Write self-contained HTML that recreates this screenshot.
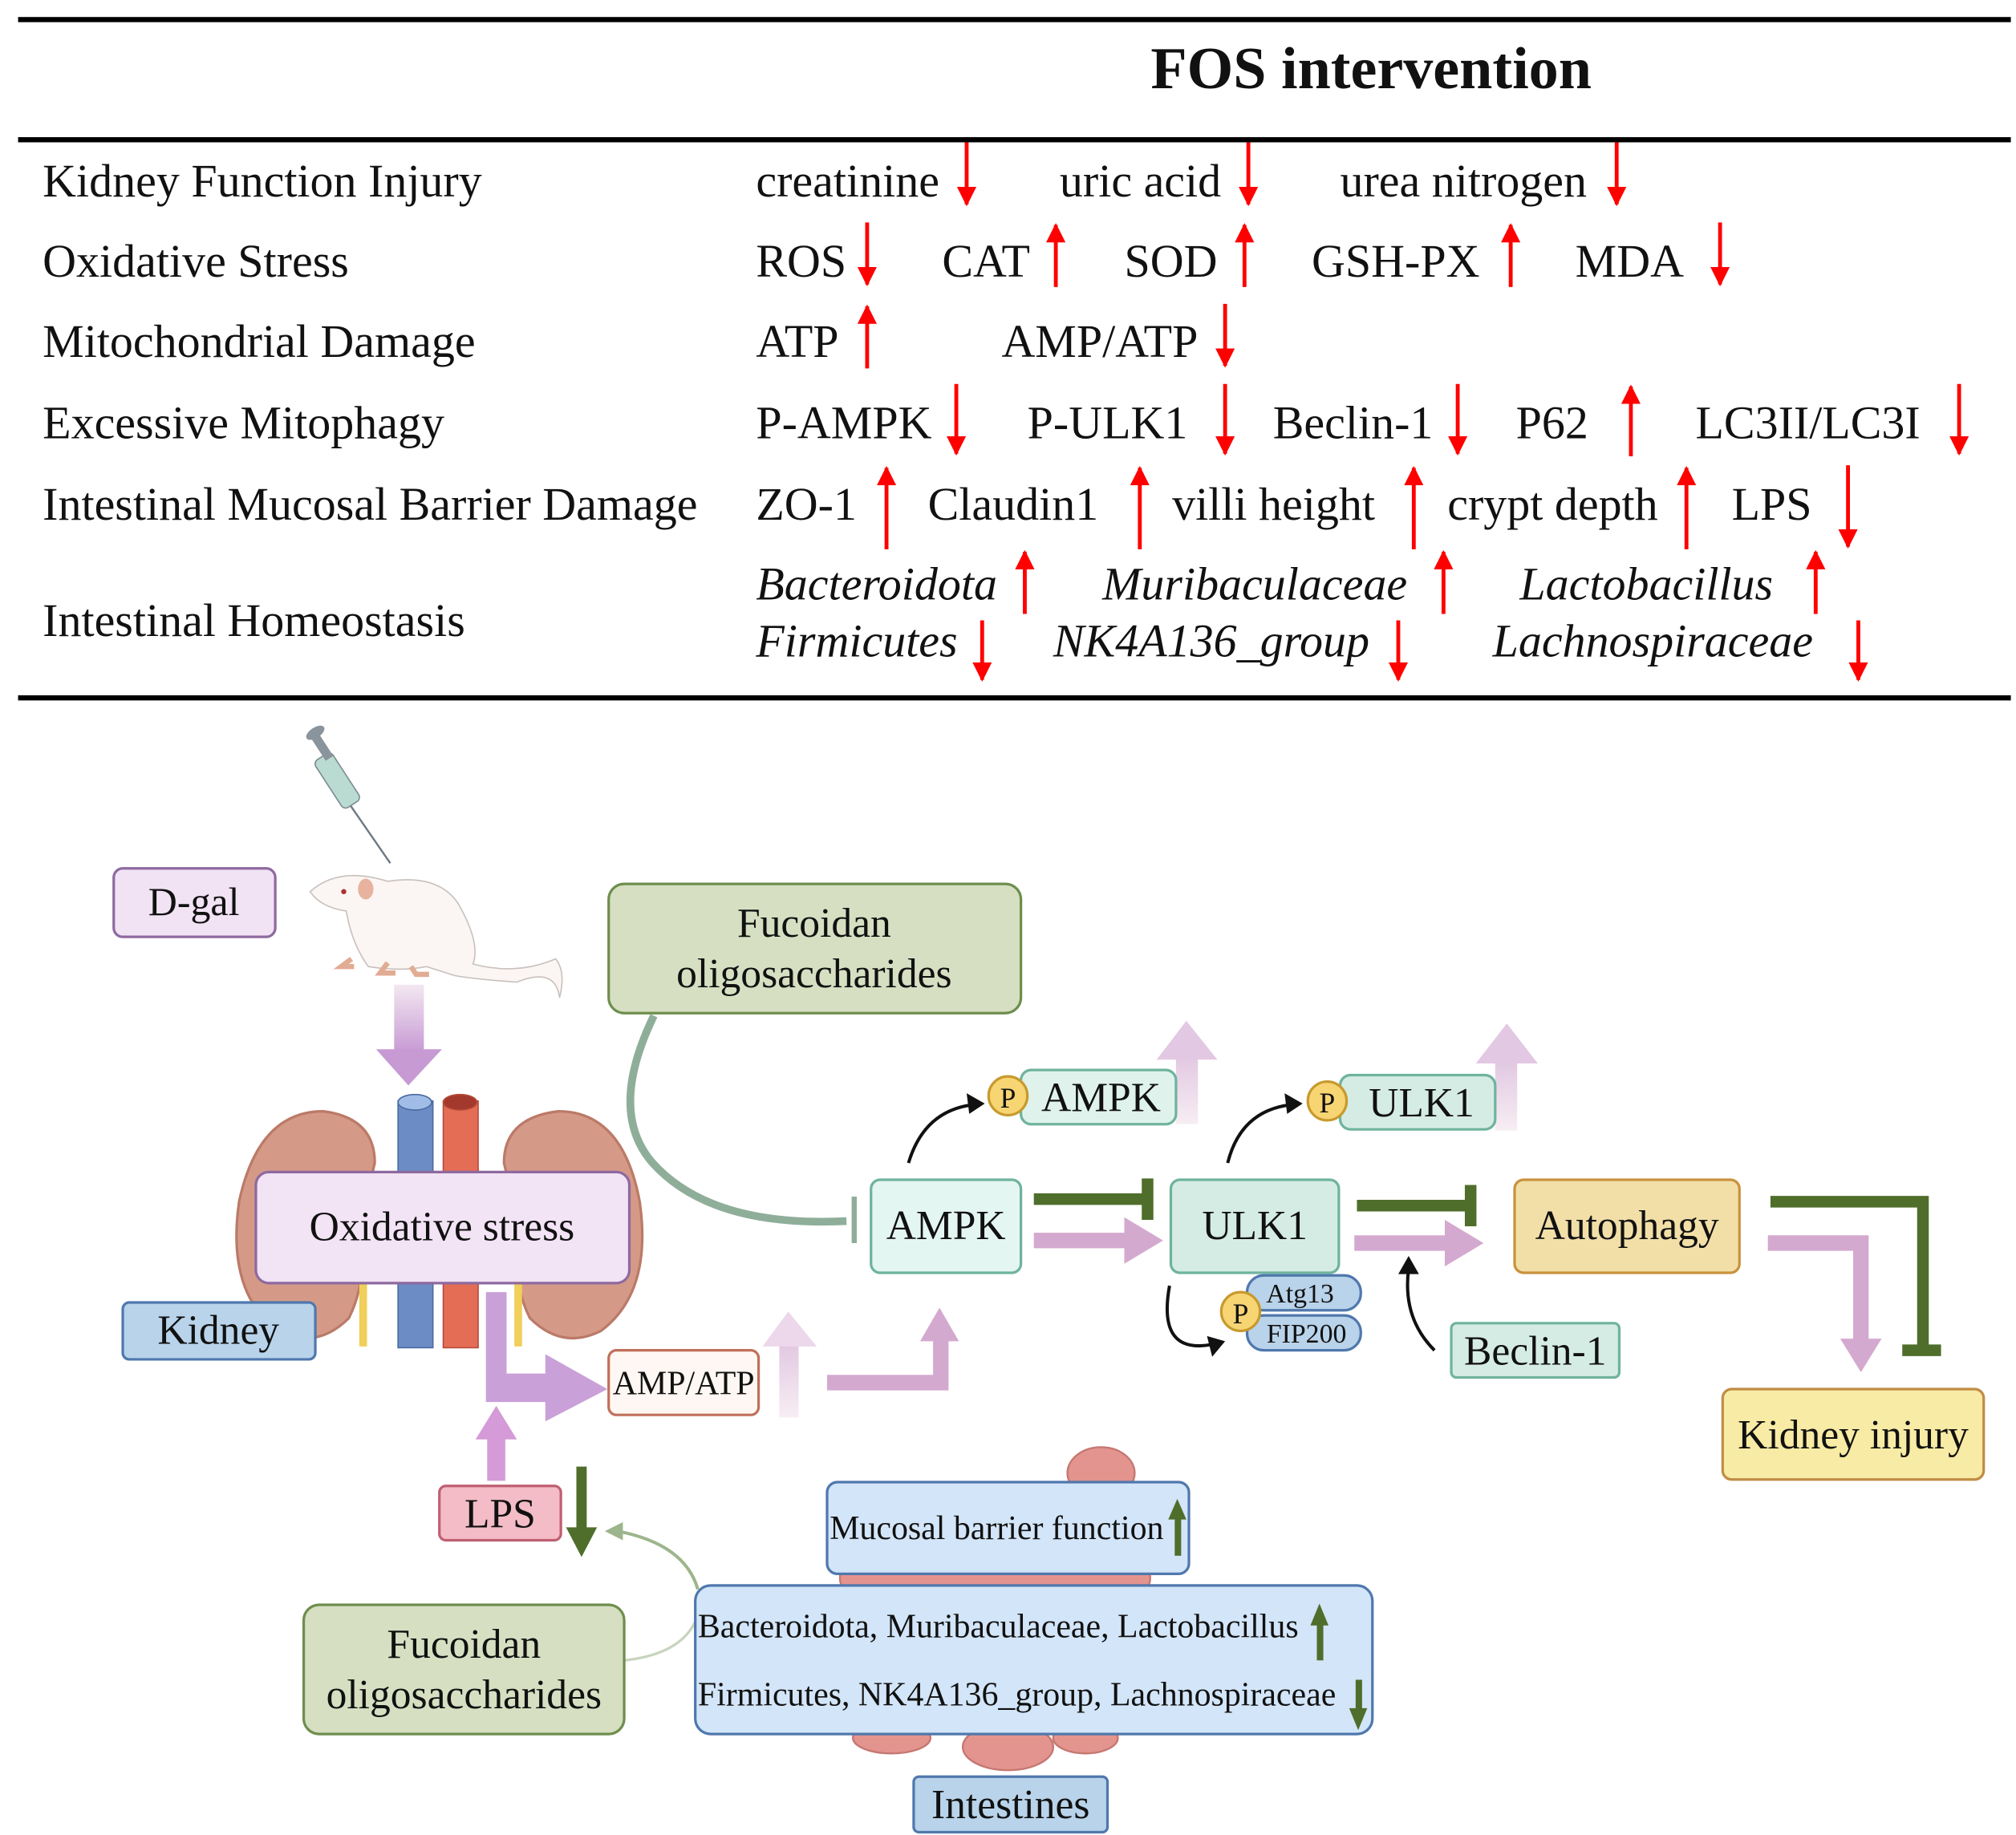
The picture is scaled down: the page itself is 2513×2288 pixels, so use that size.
<!DOCTYPE html>
<html><head><meta charset="utf-8"><style>
html,body{margin:0;padding:0;background:#fff}
svg{display:block}
text{font-family:"Liberation Serif",serif;fill:#111}
</style></head><body>
<svg width="2513" height="2288" viewBox="0 0 1560 1420" xmlns="http://www.w3.org/2000/svg">
<defs>
<marker id="rd" markerWidth="5" markerHeight="5" refX="4.5" refY="2.5" orient="auto" markerUnits="strokeWidth"><path d="M0,0 L5,2.5 L0,5 z" fill="#f00"/></marker>
<linearGradient id="gv" x1="0" y1="0" x2="0" y2="1"><stop offset="0" stop-color="#f3e8f1"/><stop offset="1" stop-color="#c79ad4"/></linearGradient>
<linearGradient id="gu" x1="0" y1="1" x2="0" y2="0"><stop offset="0" stop-color="#f7eef3"/><stop offset="1" stop-color="#e2c8e2"/></linearGradient>
</defs>
<rect x="14" y="13" width="1542" height="4" fill="#000"/>
<rect x="14" y="106" width="1542" height="4" fill="#000"/>
<rect x="14" y="538" width="1542" height="4" fill="#000"/>
<text x="1061" y="68" font-size="46" font-weight="bold" text-anchor="middle">FOS intervention</text>
<g font-size="36">
<text x="33" y="152">Kidney Function Injury</text>
<text x="33" y="214">Oxidative Stress</text>
<text x="33" y="276">Mitochondrial Damage</text>
<text x="33" y="339">Excessive Mitophagy</text>
<text x="33" y="402">Intestinal Mucosal Barrier Damage</text>
<text x="33" y="492">Intestinal Homeostasis</text>
<text x="585" y="152">creatinine</text><text x="820" y="152">uric acid</text><text x="1037" y="152">urea nitrogen</text>
<text x="585" y="214">ROS</text><text x="729" y="214">CAT</text><text x="870" y="214">SOD</text><text x="1015" y="214">GSH-PX</text><text x="1219" y="214">MDA</text>
<text x="585" y="276">ATP</text><text x="775" y="276">AMP/ATP</text>
<text x="585" y="339">P-AMPK</text><text x="795" y="339">P-ULK1</text><text x="985" y="339">Beclin-1</text><text x="1173" y="339">P62</text><text x="1312" y="339">LC3II/LC3I</text>
<text x="585" y="402">ZO-1</text><text x="718" y="402">Claudin1</text><text x="907" y="402">villi height</text><text x="1120" y="402">crypt depth</text><text x="1340" y="402">LPS</text>
<g font-style="italic"><text x="585" y="464">Bacteroidota</text><text x="853" y="464">Muribaculaceae</text><text x="1176" y="464">Lactobacillus</text>
<text x="585" y="508">Firmicutes</text><text x="815" y="508">NK4A136_group</text><text x="1155" y="508">Lachnospiraceae</text></g>
</g>
<g stroke="#f00" stroke-width="3" fill="none" marker-end="url(#rd)">
<line x1="748" y1="110" x2="748" y2="158"/><line x1="966" y1="110" x2="966" y2="158"/><line x1="1251" y1="110" x2="1251" y2="158"/>
<line x1="671" y1="172" x2="671" y2="220"/><line x1="817" y1="222" x2="817" y2="174"/><line x1="963" y1="222" x2="963" y2="174"/><line x1="1169" y1="222" x2="1169" y2="174"/><line x1="1331" y1="172" x2="1331" y2="220"/>
<line x1="671" y1="285" x2="671" y2="237"/><line x1="948" y1="235" x2="948" y2="283"/>
<line x1="740" y1="297" x2="740" y2="351"/><line x1="948" y1="297" x2="948" y2="351"/><line x1="1128" y1="297" x2="1128" y2="351"/><line x1="1262" y1="353" x2="1262" y2="299"/><line x1="1516" y1="297" x2="1516" y2="351"/>
<line x1="686" y1="425" x2="686" y2="362"/><line x1="882" y1="425" x2="882" y2="362"/><line x1="1094" y1="425" x2="1094" y2="362"/><line x1="1305" y1="425" x2="1305" y2="362"/><line x1="1430" y1="360" x2="1430" y2="423"/>
<line x1="793" y1="475" x2="793" y2="427"/><line x1="1117" y1="475" x2="1117" y2="427"/><line x1="1405" y1="475" x2="1405" y2="427"/>
<line x1="760" y1="480" x2="760" y2="526"/><line x1="1082" y1="480" x2="1082" y2="526"/><line x1="1438" y1="480" x2="1438" y2="526"/>
</g>

<g>
<line x1="262" y1="610" x2="302" y2="668" stroke="#6c7a86" stroke-width="1.5"/>
<rect x="253" y="582" width="16" height="44" rx="4" fill="#b9dbd2" stroke="#7b8b90" transform="rotate(-33 261 604)"/>
<rect x="245" y="565" width="7" height="24" fill="#8a949c" transform="rotate(-33 248 577)"/>
<ellipse cx="244" cy="567" rx="8" ry="4" fill="#8a949c" transform="rotate(-33 244 567)"/>
<path d="M240,690 Q262,670 300,682 Q340,676 355,700 Q372,730 366,746 Q400,755 430,742 Q438,752 433,772 Q430,748 400,760 Q370,758 352,755 L330,748 Q310,752 285,748 Q272,730 268,705 Q248,702 240,690 z" fill="#fbf6f3" stroke="#c8c0bc" stroke-width="1"/>
<ellipse cx="283" cy="688" rx="6" ry="8" fill="#e7b39e"/>
<circle cx="266" cy="690" r="2" fill="#a33"/>
<path d="M272,742 l-8,6 h10 M300,745 l-6,8 h12 M318,748 l4,6 h10" stroke="#e2ab94" stroke-width="4" fill="none"/>
</g>
<rect x="88" y="672" width="125" height="53" rx="7" fill="#f1e2f4" stroke="#8e6aa0" stroke-width="2"/>
<text x="150" y="708" font-size="31" text-anchor="middle">D-gal</text>
<rect x="305" y="762" width="23" height="52" fill="url(#gv)"/>
<path d="M291,812 L342,812 L316,840 z" fill="#c79ad4"/>

<path d="M250,860 Q200,860 185,930 Q175,1000 215,1030 Q245,1045 270,1020 Q285,990 278,950 L290,900 Q290,865 250,860 z" fill="#d59a87" stroke="#bb7a68" stroke-width="2"/>
<path d="M432,860 Q482,860 495,930 Q505,1000 465,1030 Q435,1045 410,1020 Q395,990 402,950 L390,900 Q390,865 432,860 z" fill="#d59a87" stroke="#bb7a68" stroke-width="2"/>
<rect x="278" y="990" width="6" height="52" fill="#f0cf5a"/><rect x="398" y="990" width="6" height="52" fill="#f0cf5a"/>
<rect x="308" y="852" width="27" height="191" fill="#6b8cc4" stroke="#4a6aa0"/><ellipse cx="321" cy="853" rx="13" ry="6" fill="#9fbde6" stroke="#4a6aa0"/>
<rect x="343" y="852" width="27" height="191" fill="#e36d55" stroke="#b84a3a"/><ellipse cx="356" cy="853" rx="13" ry="6" fill="#a3392c" stroke="#b84a3a"/>
<rect x="198" y="907" width="289" height="86" rx="10" fill="#f2e3f5" stroke="#8e6aa0" stroke-width="2"/>
<text x="342" y="960" font-size="32" text-anchor="middle">Oxidative stress</text>
<rect x="95" y="1008" width="149" height="44" rx="5" fill="#b8d3ea" stroke="#4f78ad" stroke-width="2"/>
<text x="169" y="1040" font-size="32" text-anchor="middle">Kidney</text>

<rect x="471" y="684" width="319" height="100" rx="12" fill="#d6dfc2" stroke="#6e8e4d" stroke-width="2"/>
<text x="630" y="725" font-size="32" text-anchor="middle">Fucoidan</text>
<text x="630" y="764" font-size="32" text-anchor="middle">oligosaccharides</text>
<path d="M506,786 Q470,860 505,900 Q550,950 655,945" stroke="#8fae9a" stroke-width="6" fill="none"/>
<line x1="661" y1="926" x2="661" y2="962" stroke="#8fae9a" stroke-width="4"/>

<rect x="674" y="913" width="116" height="72" rx="7" fill="#e4f6f1" stroke="#6fb39e" stroke-width="2"/>
<text x="732" y="959" font-size="32" text-anchor="middle">AMPK</text>
<rect x="906" y="913" width="130" height="72" rx="7" fill="#d5ece4" stroke="#6fb39e" stroke-width="2"/>
<text x="971" y="959" font-size="32" text-anchor="middle">ULK1</text>
<rect x="1172" y="913" width="174" height="72" rx="7" fill="#f2dfa8" stroke="#c9923e" stroke-width="2"/>
<text x="1259" y="959" font-size="32" text-anchor="middle">Autophagy</text>
<rect x="1333" y="1075" width="202" height="70" rx="7" fill="#f7eba5" stroke="#c08c45" stroke-width="2"/>
<text x="1434" y="1121" font-size="32" text-anchor="middle">Kidney injury</text>
<rect x="1123" y="1024" width="130" height="42" rx="4" fill="#d5ece4" stroke="#6fb39e" stroke-width="2"/>
<text x="1188" y="1056" font-size="32" text-anchor="middle">Beclin-1</text>

<rect x="910" y="818" width="17" height="52" fill="url(#gu)"/><path d="M895,820 L918,790 L942,820 z" fill="#e2c8e2"/>
<rect x="790" y="828" width="120" height="42" rx="8" fill="#dff3ec" stroke="#6fb39e" stroke-width="2"/>
<text x="852" y="860" font-size="32" text-anchor="middle">AMPK</text>
<circle cx="780" cy="848" r="15" fill="#f7d573" stroke="#c79a2d" stroke-width="2"/><text x="780" y="857" font-size="22" text-anchor="middle">P</text>
<rect x="1157" y="822" width="17" height="53" fill="url(#gu)"/><path d="M1142,823 L1166,792 L1190,823 z" fill="#e2c8e2"/>
<rect x="1037" y="832" width="120" height="42" rx="8" fill="#d5ece4" stroke="#6fb39e" stroke-width="2"/>
<text x="1100" y="864" font-size="32" text-anchor="middle">ULK1</text>
<circle cx="1027" cy="852" r="15" fill="#f7d573" stroke="#c79a2d" stroke-width="2"/><text x="1027" y="861" font-size="22" text-anchor="middle">P</text>

<g stroke="#111" stroke-width="2.5" fill="none">
<path d="M703,900 Q715,860 752,855"/><path d="M950,900 Q960,860 998,855"/>
<path d="M905,995 Q895,1050 940,1040"/><path d="M1110,1045 Q1085,1020 1090,982"/>
</g>
<g fill="#111">
<path d="M762,854 L748,846 L750,862 z"/><path d="M1008,854 L994,846 L996,862 z"/>
<path d="M948,1038 L934,1034 L938,1050 z"/><path d="M1090,972 L1082,986 L1098,986 z"/>
</g>

<rect x="965" y="987" width="88" height="27" rx="13" fill="#b8d3ea" stroke="#4f78ad" stroke-width="2"/>
<text x="1006" y="1008" font-size="21" text-anchor="middle">Atg13</text>
<rect x="965" y="1018" width="88" height="27" rx="13" fill="#b8d3ea" stroke="#4f78ad" stroke-width="2"/>
<text x="1011" y="1039" font-size="21" text-anchor="middle">FIP200</text>
<circle cx="960" cy="1015" r="15" fill="#f7d573" stroke="#c79a2d" stroke-width="2"/><text x="960" y="1024" font-size="22" text-anchor="middle">P</text>

<g stroke="#4f6e2b" stroke-width="9" fill="none">
<path d="M800,928 H888"/><path d="M888,912 V944"/>
<path d="M1050,933 H1138"/><path d="M1138,917 V949"/>
<path d="M1370,930 H1488 V1045"/><path d="M1472,1045 H1502"/>
</g>
<g fill="#d4a9cf">
<rect x="800" y="954" width="72" height="12"/><path d="M870,942 L900,960 L870,978 z"/>
<rect x="1048" y="956" width="72" height="12"/><path d="M1118,944 L1148,962 L1118,980 z"/>
<path d="M1368,956 H1446 V1040 H1434 V968 H1368 z"/><path d="M1424,1036 L1440,1062 L1456,1036 z"/>
</g>

<path d="M376,1000 H392 V1063 H422 V1048 L470,1075 L422,1100 V1085 H376 z" fill="#c9a0d8"/>
<rect x="471" y="1045" width="116" height="50" rx="6" fill="#fff7f3" stroke="#c0705a" stroke-width="2"/>
<text x="529" y="1079" font-size="26" text-anchor="middle">AMP/ATP</text>
<rect x="603" y="1040" width="15" height="57" fill="url(#gu)"/><path d="M590,1042 L610,1015 L632,1042 z" fill="#ecd8ea"/>
<path d="M640,1064 H722 V1038 H712 L727,1012 L742,1038 H734 V1076 H640 z" fill="#d4a9cf"/>

<rect x="377" y="1112" width="14" height="34" fill="#d59ad8"/><path d="M368,1114 L384,1088 L400,1114 z" fill="#d59ad8"/>
<rect x="340" y="1150" width="94" height="42" rx="5" fill="#f3bcc6" stroke="#c05f72" stroke-width="2"/>
<text x="387" y="1182" font-size="32" text-anchor="middle">LPS</text>
<rect x="446" y="1135" width="8" height="50" fill="#4f6e2b"/><path d="M438,1182 L450,1205 L462,1182 z" fill="#4f6e2b"/>
<path d="M540,1230 Q530,1195 478,1185" stroke="#9db58c" stroke-width="2.5" fill="none"/>
<path d="M468,1185 L482,1178 L482,1192 z" fill="#9db58c"/>
<path d="M483,1285 Q530,1280 540,1250" stroke="#c8d4bd" stroke-width="2" fill="none"/>

<g fill="#e3948e" stroke="#c57872" stroke-width="1.5">
<ellipse cx="852" cy="1140" rx="26" ry="20"/>
<rect x="650" y="1210" width="240" height="22" rx="10"/>
<ellipse cx="690" cy="1345" rx="30" ry="12"/><ellipse cx="780" cy="1352" rx="35" ry="18"/><ellipse cx="840" cy="1345" rx="25" ry="12"/>
</g>
<rect x="640" y="1147" width="280" height="71" rx="8" fill="#d3e5f8" stroke="#4f78ad" stroke-width="2"/>
<text x="642" y="1191" font-size="26">Mucosal barrier function</text>
<rect x="909" y="1172" width="5" height="32" fill="#4f6e2b"/><path d="M904,1176 L911,1160 L918,1176 z" fill="#4f6e2b"/>
<rect x="538" y="1227" width="524" height="115" rx="12" fill="#d3e5f8" stroke="#4f78ad" stroke-width="2"/>
<text x="540" y="1267" font-size="26">Bacteroidota, Muribaculaceae, Lactobacillus</text>
<text x="540" y="1320" font-size="26">Firmicutes, NK4A136_group, Lachnospiraceae</text>
<rect x="1019" y="1255" width="5" height="30" fill="#4f6e2b"/><path d="M1014,1258 L1021,1241 L1028,1258 z" fill="#4f6e2b"/>
<rect x="1049" y="1300" width="5" height="26" fill="#4f6e2b"/><path d="M1044,1322 L1051,1339 L1058,1322 z" fill="#4f6e2b"/>
<rect x="707" y="1375" width="150" height="43" rx="4" fill="#b8d3ea" stroke="#4f78ad" stroke-width="2"/>
<text x="782" y="1407" font-size="32" text-anchor="middle">Intestines</text>

<rect x="235" y="1242" width="248" height="100" rx="12" fill="#d6dfc2" stroke="#6e8e4d" stroke-width="2"/>
<text x="359" y="1283" font-size="32" text-anchor="middle">Fucoidan</text>
<text x="359" y="1322" font-size="32" text-anchor="middle">oligosaccharides</text>
</svg>
</body></html>
